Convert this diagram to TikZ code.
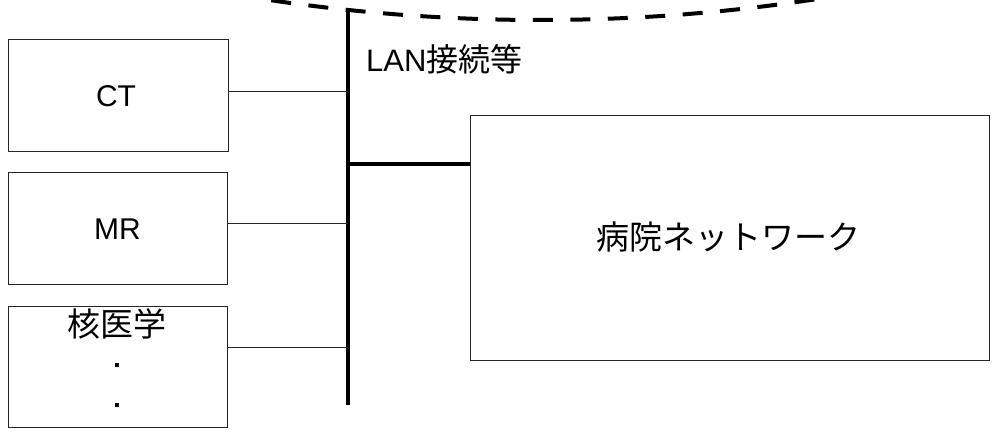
\documentclass[tikz,border=0pt]{standalone}
\usepackage{fontspec}
\setmainfont{Liberation Sans}
\newfontfamily\cjk{Noto Sans CJK JP}
\begin{document}
\begin{tikzpicture}[x=1pt,y=-1pt,
  box/.style={draw=black!85, line width=1pt, inner sep=0pt, anchor=north west},
  thinline/.style={draw=black!85, line width=1pt},
  busline/.style={draw=black, line width=4pt},
  lbl/.style={inner sep=0pt, font=\fontsize{30}{30}\selectfont},
  jlbl/.style={inner sep=0pt, font=\cjk\fontsize{33}{33}\selectfont},
  dotmark/.style={fill=black, minimum size=4pt, inner sep=0pt}]
\useasboundingbox (0,0) rectangle (993,439);
\clip (0,0) rectangle (993,439);
% dashed arc
\draw[line width=4pt, dash pattern=on 20pt off 17.5pt, dash phase=16pt]
  (250,-2.95) .. controls (443.3,27.65) and (636.7,27.65) .. (830,-2.95);
% boxes
\node[box, minimum width=220pt, minimum height=112pt] (ct) at (8,39) {};
\node[box, minimum width=219pt, minimum height=112pt] (mr) at (8,172) {};
\node[box, minimum width=219pt, minimum height=121pt] (nm) at (8,306) {};
\node[box, minimum width=519pt, minimum height=245pt] (hosp) at (470,115) {};
% labels
\node[lbl] (ctl) at (116,96) {CT};
\node[lbl] (mrl) at (117.5,229) {MR};
\node[jlbl] (nml) at (117,324) {核医学};
\node[dotmark] (d1) at (117,365) {};
\node[dotmark] (d2) at (117,405) {};
\node[jlbl] (hospl) at (728,237) {病院ネットワーク};
\node[anchor=west, inner sep=0pt] (lan) at (366,59)
  {\fontsize{31}{31}\selectfont LAN{\cjk\fontsize{32}{32}\selectfont 接続等}};
% bus
\coordinate (bustop) at (348,8);
\coordinate (busbot) at (348,405);
\draw[busline] (bustop) -- (busbot);
% connectors
\draw[thinline] ([yshift=4pt]ct.east) -- ([yshift=4pt]ct.east -| bustop);
\draw[thinline] ([yshift=5pt]mr.east) -- ([yshift=5pt]mr.east -| bustop);
\draw[thinline] ([yshift=19.5pt]nm.east) -- ([yshift=19.5pt]nm.east -| bustop);
\draw[busline] ([yshift=74.5pt]hosp.west) -- ([yshift=74.5pt]hosp.west -| bustop);
\end{tikzpicture}
\end{document}
